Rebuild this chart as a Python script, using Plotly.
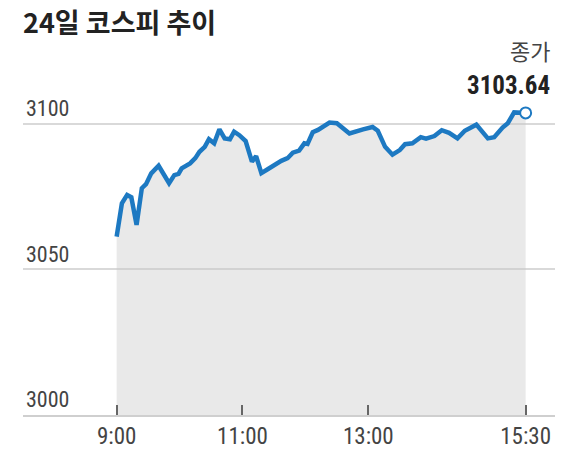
import plotly.graph_objects as go

title_text = "24일 코스피 추이"
close_label = "종가"

times = ["9:00", "9:05", "9:10", "9:14", "9:19", "9:24", "9:28", "9:33", "9:40", "9:44",
         "9:50", "9:55", "9:59", "10:02", "10:10", "10:15", "10:19", "10:24", "10:28", "10:33",
         "10:38", "10:43", "10:48", "10:52", "10:57", "11:03", "11:05", "11:09", "11:13", "11:18",
         "11:24", "11:31", "11:37", "11:43", "11:48", "11:54", "11:59", "12:02", "12:07", "12:12",
         "12:23", "12:30", "12:42", "12:55", "13:04", "13:09", "13:16", "13:23", "13:30", "13:35",
         "13:42", "13:50", "13:55", "14:03", "14:10", "14:17", "14:25", "14:32", "14:43", "14:54",
         "15:00", "15:08", "15:13", "15:19", "15:30"]
values = [3061.2, 3072.6, 3075.5, 3074.7, 3065.2, 3077.8, 3079.2, 3082.9, 3085.5, 3082.9,
          3079.5, 3082.3, 3082.7, 3084.6, 3086.3, 3088.1, 3090.3, 3092.0, 3094.6, 3093.2,
          3098.0, 3094.9, 3094.6, 3097.2, 3096.0, 3094.0, 3092.0, 3086.9, 3088.8, 3083.0,
          3084.3, 3086.0, 3087.2, 3088.1, 3090.0, 3090.7, 3093.2, 3093.0, 3097.0, 3097.8,
          3100.3, 3100.1, 3096.6, 3098.0, 3098.8, 3097.5, 3092.0, 3089.3, 3090.9, 3092.9,
          3093.2, 3095.3, 3094.8, 3095.7, 3097.7, 3096.8, 3094.9, 3097.5, 3099.6, 3094.9,
          3095.3, 3098.6, 3100.1, 3103.8, 3103.64]

x_ticks = ["9:00", "11:00", "13:00", "15:30"]
y_ticks = [3000, 3050, 3100]


def to_min(s):
    h, m = s.split(":")
    return int(h) * 60 + int(m) - 540


xs = [to_min(t) for t in times]
x_tick_vals = [to_min(t) for t in x_ticks]

LINE = "#1d79c2"
NARROW = "Liberation Sans Narrow, Roboto Condensed, Roboto, sans-serif"
KR = "Noto Sans CJK KR, sans-serif"
TITLE_FONT = "Liberation Sans Narrow, Noto Sans CJK KR, sans-serif"

# page body has an 8px margin; figure coordinates are offset accordingly
OFF = 8
PLOT_TOP, PLOT_BOTTOM, PLOT_LEFT, PLOT_RIGHT = 80, 415, 23, 555
PH = PLOT_BOTTOM - PLOT_TOP
PW = PLOT_RIGHT - PLOT_LEFT
Y_TOP = 3000 + PH / 2.915


def py(p):
    return (PLOT_BOTTOM - p) / PH


def px(p):
    return (p - PLOT_LEFT) / PW


fig = go.Figure()
fig.add_trace(go.Scatter(
    x=xs, y=values, mode="lines",
    line=dict(color=LINE, width=4.5),
    fill="tozeroy", fillcolor="rgba(200,200,200,0.4)",
    hoverinfo="skip", showlegend=False,
))
fig.add_trace(go.Scatter(
    x=[xs[-1]], y=[values[-1]], mode="markers",
    marker=dict(symbol="circle", size=11, color="white", line=dict(color=LINE, width=2)),
    hoverinfo="skip", showlegend=False,
))

fig.update_layout(
    width=576, height=469,
    margin=dict(l=PLOT_LEFT - OFF, r=576 + OFF - PLOT_RIGHT, t=PLOT_TOP - OFF,
                b=469 - (PLOT_BOTTOM - OFF)),
    paper_bgcolor="white", plot_bgcolor="white",
    title=dict(text=title_text, x=(23 - OFF) / 576, xanchor="left",
               y=1 - (24 - OFF) / 469, yanchor="middle",
               font=dict(family=TITLE_FONT, size=27, color="#222222", weight="bold")),
    xaxis=dict(
        range=[-89.3, 418.0], tickvals=x_tick_vals, ticktext=x_ticks,
        showgrid=False, zeroline=False,
        showline=True, linecolor="#cfcfcf", linewidth=1.5,
        ticks="inside", ticklen=10, tickwidth=1.5, tickcolor="#666666",
        tickfont=dict(family=NARROW, size=23, color="#444444"),
    ),
    yaxis=dict(
        range=[3000, Y_TOP], tickvals=y_ticks,
        showgrid=True, gridcolor="#d9d9d9", gridwidth=1.5, zeroline=False,
        ticks="", ticklabelposition="inside top",
        tickfont=dict(family=NARROW, size=22, color="#444444"),
    ),
    annotations=[
        dict(text=close_label, xref="paper", yref="paper", x=px(552), y=py(50),
             xanchor="right", yanchor="middle", showarrow=False,
             font=dict(family=KR, size=22, color="#444444")),
        dict(text=f"{values[-1]:.2f}", xref="paper", yref="paper", x=px(552), y=py(85),
             xanchor="right", yanchor="middle", showarrow=False,
             font=dict(family=NARROW, size=25, color="#222222", weight="bold")),
    ],
)

fig.write_html("out.html")
